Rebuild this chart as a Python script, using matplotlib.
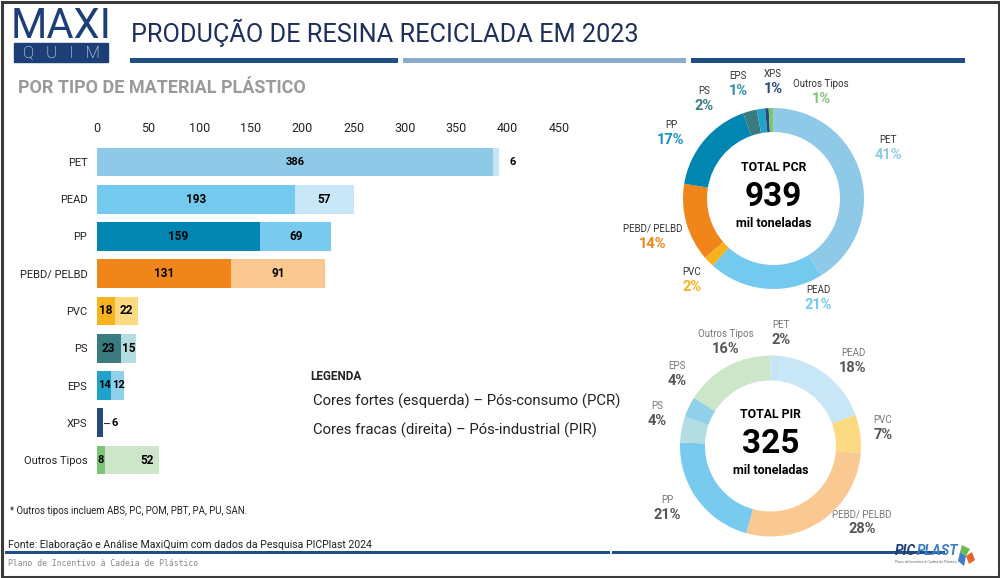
import matplotlib
matplotlib.use("Agg")
import matplotlib.pyplot as plt
from matplotlib.patches import Rectangle, Polygon
import matplotlib.font_manager as fm

# ---------------- data ----------------
categories = ["PET", "PEAD", "PP", "PEBD/ PELBD", "PVC", "PS", "EPS", "XPS", "Outros Tipos"]
pcr_values = [386, 193, 159, 131, 18, 23, 14, 6, 8]
pir_values = [6, 57, 69, 91, 22, 15, 12, 0, 52]
x_ticks = [0, 50, 100, 150, 200, 250, 300, 350, 400, 450]

pcr_colors = ["#8fc9e8", "#74c9ee", "#0086b0", "#f08519", "#f8b21e", "#3a7b7f", "#21a3c9", "#264a7c", "#7dc476"]
pir_colors = ["#c5e4f4", "#c7e6f6", "#78caef", "#fac991", "#fdd982", "#b3dde1", "#8fd0ea", "#264a7c", "#cde6ca"]
pcr_pct_colors = ["#8fc9e8", "#74c9ee", "#1a8fbf", "#f08519", "#f8b21e", "#3a7b7f", "#2a8ea8", "#264a7c", "#7dc476"]

pcr_pct = ["41%", "21%", "17%", "14%", "2%", "2%", "1%", "1%", "1%"]
pir_pct = ["2%", "18%", "21%", "28%", "7%", "4%", "4%", "", "16%"]

donut_order = [0, 1, 4, 3, 2, 5, 6, 7, 8]   # PET, PEAD, PVC, PEBD, PP, PS, EPS, XPS, Outros
total_pcr = "939"
total_pir = "325"

# label positions (pixels) for donut annotations
pcr_label_pos = {0: (888, 140), 1: (818, 290), 4: (692, 272), 3: (653, 229), 2: (671, 125),
                 5: (704, 91), 6: (738, 76), 7: (773, 74), 8: (821, 84)}
pir_label_pos = {0: (781, 325), 1: (853, 353), 4: (883, 420), 3: (862, 514), 2: (667, 500),
                 5: (657, 406), 6: (677, 366), 8: (726, 334)}

# ---------------- fonts ----------------
FAM = ["Roboto", "DejaVu Sans"]
avail = {f.name for f in fm.fontManager.ttflist}
FAM = [f for f in FAM if f in avail] or ["DejaVu Sans"]
plt.rcParams["font.family"] = FAM

W, H = 1000, 578
fig = plt.figure(figsize=(W / 100, H / 100), dpi=100)
fig.patch.set_facecolor("white")

def fx(x):
    return x / W

def fy(y):
    return 1 - y / H

# overlay axes in pixel coordinates
ov = fig.add_axes([0, 0, 1, 1], zorder=0)
ov.set_xlim(0, W)
ov.set_ylim(H, 0)
ov.axis("off")
ov.patch.set_alpha(0)

NAVY = "#1d3f78"
DARK = "#222222"

# border
ov.add_patch(Rectangle((1.5, 1.5), W - 3, H - 3, fill=False, ec="#3a3a3a", lw=2.2))

# logo
ov.text(61, 27, "MAXI", fontsize=30, fontweight="normal", color=NAVY, ha="center", va="center")
ov.add_patch(Rectangle((14, 43), 94, 19, color=NAVY))
ov.text(61, 53, "Q   U   I   M", fontsize=12, fontweight="light", color="white", ha="center", va="center")

# title
ov.text(131, 33, "PRODUÇÃO DE RESINA RECICLADA EM 2023", fontsize=18.2, color="#1f2f5c",
        ha="left", va="center")
ov.add_patch(Rectangle((130, 58), 268, 4.5, color="#1f4f86", lw=0))
ov.add_patch(Rectangle((403, 58), 283, 4.5, color="#8aaccd", lw=0))
ov.add_patch(Rectangle((691, 58), 274, 4.5, color="#1f4f86", lw=0))

# subtitle
ov.text(18, 88, "POR TIPO DE MATERIAL PLÁSTICO", fontsize=13, fontweight="bold",
        color="#9a9a9a", ha="left", va="center")

# legend text
ov.text(310, 376, "LEGENDA", fontsize=8.5, fontweight="bold", color=DARK, ha="left", va="center")
ov.text(313, 401, "Cores fortes (esquerda) – Pós-consumo (PCR)", fontsize=10.7, color=DARK,
        ha="left", va="center")
ov.text(313, 430, "Cores fracas (direita) – Pós-industrial (PIR)", fontsize=10.7, color=DARK,
        ha="left", va="center")

# footnotes
ov.text(10, 511, "* Outros tipos incluem ABS, PC, POM, PBT, PA, PU, SAN.", fontsize=6.9,
        color=DARK, ha="left", va="center")
ov.text(8, 545, "Fonte: Elaboração e Análise MaxiQuim com dados da Pesquisa PICPlast 2024",
        fontsize=7.6, color=DARK, ha="left", va="center")
ov.add_patch(Rectangle((5, 551), 605, 2.5, color="#1f4f86", lw=0))
ov.add_patch(Rectangle((612, 551), 333, 2.5, color="#1f4f86", lw=0))
ov.text(8, 563, "Plano de Incentivo à Cadeia de Plástico", fontsize=5.9, color="#888888",
        family="DejaVu Sans Mono", ha="left", va="center")

# PICPLAST logo
pic = ov.text(895, 551, "PIC", fontsize=10, fontweight="bold", style="italic", color="#1f3f78",
              ha="left", va="center")
ov.annotate("PLAST", xy=(1, 0.5), xycoords=pic, fontsize=10, fontweight="bold", style="italic",
            color="#3d7fc4", ha="left", va="center")
ov.text(895, 562, "Plano de Incentivo à Cadeia do Plástico", fontsize=2.5, color="#666666",
        ha="left", va="center")
ov.add_patch(Polygon([(962, 545), (970, 549), (966, 556), (960, 552)], color="#6dbb4f", lw=0))
ov.add_patch(Polygon([(966, 556), (972, 552), (975, 560), (969, 564)], color="#e8632b", lw=0))
ov.add_patch(Polygon([(960, 552), (966, 556), (964, 566), (958, 561)], color="#3d7fc4", lw=0))

# ---------------- bar chart ----------------
row_px = 37.25
first_row_y = 162
n = len(categories)
top_px = first_row_y - row_px / 2
bot_px = top_px + n * row_px
bx0, bx1 = 97, 559
ax = fig.add_axes([fx(bx0), fy(bot_px), (bx1 - bx0) / W, (bot_px - top_px) / H], zorder=2)
ax.patch.set_alpha(0)
ypos = list(range(n))
ax.barh(ypos, pcr_values, height=0.77, color=pcr_colors, lw=0)
ax.barh(ypos, pir_values, left=pcr_values, height=0.77, color=pir_colors, lw=0)
ax.set_xlim(0, 450)
ax.set_ylim(n - 0.5, -0.5)
ax.xaxis.tick_top()
ax.set_xticks(x_ticks)
ax.set_xticklabels([str(t) for t in x_ticks], fontsize=9, color=DARK)
ax.set_yticks(ypos)
ax.set_yticklabels(categories, fontsize=8, color=DARK)
ax.tick_params(length=0)
ax.tick_params(axis="x", pad=6)
ax.tick_params(axis="y", pad=7)
for s in ax.spines.values():
    s.set_visible(False)

LBL = dict(va="center", fontweight="bold", color="black")
for i in range(n):
    a, b = pcr_values[i], pir_values[i]
    fs = 8.5 if (a >= 16 and (b == 0 or b >= 14)) else 8
    if b == 0:
        ax.plot([a + 1, a + 6], [i, i], color="#333333", lw=0.8)
        ax.text(a + 8, i, str(a), ha="left", fontsize=fs, **LBL)
        continue
    ax.text(a / 2, i, str(a), ha="center", fontsize=fs, **LBL)
    if b < 8:
        ax.text(a + b + 10, i, str(b), ha="left", fontsize=fs, **LBL)
    elif categories[i] == "Outros Tipos":
        ax.text(a + b - 5, i, str(b), ha="right", fontsize=8.5, **LBL)
    else:
        ax.text(a + b / 2 + (0.8 if b < 14 else 0), i, str(b), ha="center", fontsize=fs, **LBL)

# ---------------- donuts ----------------
def donut(cx, cy, R, r_in, values, colors, total, title, label_pos, pct, pct_colors, name_color):
    axd = fig.add_axes([fx(cx - R), fy(cy + R), 2 * R / W, 2 * R / H], zorder=2)
    vals = [values[k] for k in donut_order]
    cols = [colors[k] for k in donut_order]
    keep = [(v, c) for v, c in zip(vals, cols) if v > 0]
    axd.pie([v for v, _ in keep], colors=[c for _, c in keep], startangle=90, counterclock=False,
            radius=1, wedgeprops=dict(width=1 - r_in / R, edgecolor="none"))
    axd.set_xlim(-1, 1)
    axd.set_ylim(-1, 1)
    axd.axis("off")
    ov.text(cx, cy - 31, title, fontsize=8.8, fontweight="bold", color="black", ha="center", va="center")
    ov.text(cx, cy - 2, total, fontsize=24, fontweight="bold", color="black", ha="center", va="center")
    ov.text(cx, cy + 25, "mil toneladas", fontsize=9, fontweight="bold", color="black",
            ha="center", va="center")
    for k, (lx, ly) in label_pos.items():
        ov.text(lx, ly, categories[k], fontsize=7, color=name_color, ha="center", va="center")
        pc = pct_colors[k] if isinstance(pct_colors, list) else pct_colors
        ov.text(lx, ly + 15, pct[k], fontsize=10.5, fontweight="bold", color=pc, ha="center", va="center")

donut(773.5, 198.5, 90.5, 66.5, pcr_values, pcr_colors, total_pcr, "TOTAL PCR",
      pcr_label_pos, pcr_pct, pcr_pct_colors, "#333333")
donut(770.5, 446, 90.5, 65.5, pir_values, pir_colors, total_pir, "TOTAL PIR",
      pir_label_pos, pir_pct, "#555555", "#777777")

fig.savefig("out.png", dpi=100, facecolor="white")
